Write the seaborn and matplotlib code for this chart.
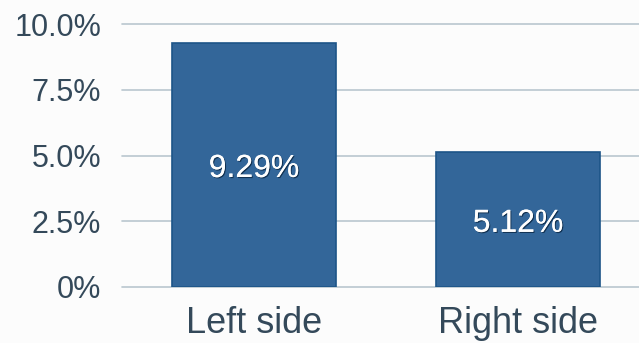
import matplotlib
matplotlib.use("Agg")
import matplotlib.pyplot as plt
import matplotlib.patheffects as pe
import seaborn as sns
import pandas as pd

categories = ["Left side", "Right side"]
values = [9.29, 5.12]
labels = ["9.29%", "5.12%"]
yticks = [0, 2.5, 5.0, 7.5, 10.0]
ytick_labels = ["0%", "2.5%", "5.0%", "7.5%", "10.0%"]

sns.set_theme(style="white")
plt.rcParams["font.family"] = ["Liberation Sans", "DejaVu Sans"]

df = pd.DataFrame({"side": categories, "value": values})

fig = plt.figure(figsize=(6.39, 3.43), dpi=100, facecolor="#fcfcfc")
ax = fig.add_axes([122/639, (343-287)/343, 1 - 122/639, (287-24)/343])
ax.set_facecolor("#fcfcfc")

sns.barplot(data=df, x="side", y="value", ax=ax, color="#336699",
            width=0.62, edgecolor="#1d5588", linewidth=1.2, saturation=1, zorder=3)

ax.set_xlim(-0.5, 1.458)
ax.set_ylim(0, 10.0)
ax.set_yticks(yticks)
ax.set_yticklabels(ytick_labels)
ax.yaxis.grid(True, color="#b9c6cf", linewidth=1.2, zorder=0)
for gl in ax.get_ygridlines():
    gl.set_clip_on(False)
ax.set_axisbelow(True)
for s in ax.spines.values():
    s.set_visible(False)
ax.set_xlabel("")
ax.set_ylabel("")
ax.tick_params(axis="y", length=0, pad=15, labelsize=22, labelcolor="#34495a")
ax.tick_params(axis="x", length=0, pad=14, labelsize=26, labelcolor="#34495a")

container = ax.containers[0]
txts = ax.bar_label(container, labels=labels, label_type="center", color="white",
                    fontsize=23)
for t in txts:
    t.xyann = (0, -3)
    t.set_path_effects([pe.withSimplePatchShadow(offset=(0.8, -0.8), shadow_rgbFace="#0a2540", alpha=0.8),
                        pe.Normal()])

fig.savefig("out.png", dpi=100, facecolor=fig.get_facecolor())
